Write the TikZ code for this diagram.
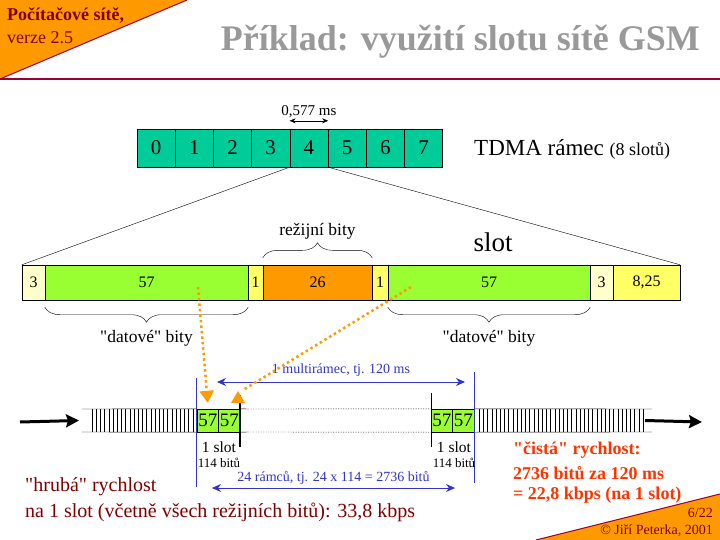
\documentclass[tikz,border=0pt]{standalone}
\usepackage{fontspec}
\setmainfont{Liberation Serif}[Ligatures=TeXOff]
\usepackage{tikz}
\usetikzlibrary{arrows.meta, positioning, calc, decorations.pathreplacing}

\definecolor{tdmagreen}{HTML}{00CC99}
\definecolor{datagreen}{HTML}{99FF33}
\definecolor{paleyellow}{HTML}{FFFFCC}
\definecolor{bityellow}{HTML}{FFFF66}
\definecolor{overorange}{HTML}{FF9900}
\definecolor{headred}{HTML}{990033}
\definecolor{textred}{HTML}{800000}
\definecolor{netred}{HTML}{FF3300}
\definecolor{linkblue}{HTML}{3333CC}
\definecolor{titlegray}{HTML}{999999}

\newcommand{\pxfont}[1]{\fontsize{#1}{#1}\selectfont}

\begin{document}
\begin{tikzpicture}[
    x=1pt, y=-1pt,
    tslot/.style={rectangle, draw, fill=tdmagreen, minimum width=38.2pt, minimum height=38pt, inner sep=0pt, font=\pxfont{21}},
    cell/.style={rectangle, draw, fill=#1, minimum height=35pt, inner sep=0pt, font=\pxfont{16}},
    tcell/.style={rectangle, draw, fill=datagreen, minimum width=21.5pt, minimum height=23pt, inner sep=0pt, font=\pxfont{19}},
    brace/.style={decorate, decoration={brace, amplitude=15pt}},
    bluearrow/.style={{Stealth[length=9pt, width=8pt]}-{Stealth[length=9pt, width=8pt]}, draw=linkblue, thick},
    orangedot/.style={draw=overorange, line width=2.5pt, dash pattern=on 2.5pt off 3pt},
    bigarrow/.style={-{Stealth[length=13pt, width=13pt, inset=2pt]}, line width=3pt},
    slotlabel/.style={font=\pxfont{15.5}, inner sep=0pt},
    bitlabel/.style={font=\pxfont{13}, inner sep=0pt},
    bluelabel/.style={font=\pxfont{14}, text=linkblue, inner sep=1pt}
]
\useasboundingbox (0,0) rectangle (720,540);

% ===== HEADER =====
\fill[overorange] (0,0) -- (187,0) -- (0,79) -- cycle;
\draw[headred, line width=1pt] (187,0) -- (0,79);
\draw[headred, line width=2pt] (0,79) -- (720,79);
\node[anchor=west, font=\pxfont{18}\bfseries, text=textred, inner sep=0pt] (course) at (7,16) {Počítačové sítě,};
\node[anchor=west, font=\pxfont{18}, text=textred, inner sep=0pt] (version) at (7,38) {verze 2.5};
\node[anchor=east, font=\pxfont{36}\bfseries, text=titlegray, inner sep=0pt] (title) at (700,42) {Příklad: využití slotu sítě GSM};

% ===== TDMA FRAME =====
\foreach \i in {0,...,7}
    \node[tslot] (t\i) at ({156.1+38.2*\i},148) {\i};
\node[anchor=west, font=\pxfont{23}, inner sep=0pt] (tdma) at (474,149) {TDMA rámec {\pxfont{18}(8 slotů)}};
\draw[{Stealth[length=6pt, width=5pt]}-{Stealth[length=6pt, width=5pt]}] ([yshift=8pt]t4.north west) -- ([yshift=8pt]t4.north east)
    node[midway, above=3pt, font=\pxfont{15}, inner sep=0pt] (period) {0,577 ms};

% ===== SLOT =====
\node[cell=paleyellow, minimum width=23pt] (s1) at (33.5,282.5) {3};
\node[cell=datagreen, minimum width=203pt] (s2) at (146.5,282.5) {57};
\node[cell=bityellow, minimum width=15pt] (s3) at (255.5,282.5) {1};
\node[cell=overorange, minimum width=109pt] (s4) at (317.5,282.5) {26};
\node[cell=bityellow, minimum width=16pt] (s5) at (380,282.5) {1};
\node[cell=datagreen, minimum width=202pt] (s6) at (489,282.5) {57};
\node[cell=paleyellow, minimum width=23pt] (s7) at (601.5,282.5) {3};
\node[cell=bityellow, minimum width=67pt] (s8) at (646.5,282.5) {8,25};

\draw (t4.south west) -- (s1.north west);
\draw (t4.south east) -- (s8.north east);
\node[font=\pxfont{27}] (slotname) at (493,242) {slot};

% braces
\draw[brace] ([yshift=7pt]s4.north west) -- ([yshift=7pt]s4.north east)
    node[midway, above=18pt, font=\pxfont{17.5}, inner sep=0pt] (overhead) {režijní bity};
\draw[brace] ([yshift=-7pt]s2.south east) -- ([yshift=-7pt]s2.south west)
    node[midway, below=23pt, font=\pxfont{17.5}, inner sep=0pt] (dataA) {"datové" bity};
\draw[brace] ([yshift=-7pt]s6.south east) -- ([yshift=-7pt]s6.south west)
    node[midway, below=23pt, font=\pxfont{17.5}, inner sep=0pt] (dataB) {"datové" bity};

% ===== TIMELINE =====
\node[tcell] (g1) at (207.75,420.5) {57};
\node[tcell] (g2) at (229.25,420.5) {57};
\node[tcell] (g3) at (441.75,420.5) {57};
\node[tcell] (g4) at (463.25,420.5) {57};

\coordinate (lstrip) at (82,420.5);
\coordinate (rstrip) at (643,420.5);
\coordinate (inflow) at (20,422);
\coordinate (outflow) at (702,422);

% left strip
\draw (82,409) -- (g1.north west);
\draw (82,432) -- (g1.south west);
\foreach \x in {92,96.2,...,196}
    \draw (\x,409) -- (\x,432);
\draw (g2.north east) -- (248,409);
\draw (g2.south east) -- (248,432);
\draw[dash pattern=on 1pt off 1.5pt] (248,409) -- (g3.north west);
\draw[dash pattern=on 1pt off 1.5pt] (248,432) -- (g3.south west);

% right strip
\draw (g4.north east) -- (652,409);
\draw (g4.south east) -- (652,432);
\foreach \x in {479.2,483.4,...,643}
    \draw (\x,409) -- (\x,432);

\draw[bigarrow] (inflow) -- ([xshift=-3pt]lstrip);
\draw[bigarrow] ([xshift=2pt]rstrip) -- (outflow);

% slot markers
\draw[line width=1.5pt] ([yshift=14pt]g2.north east) -- ([yshift=-15pt]g2.south east);
\draw ([yshift=16pt]g3.north west) -- ([yshift=-15pt]g3.south west);
\draw[linkblue, thick] ([yshift=31pt]g1.north west) -- ([yshift=-55pt]g1.south west);
\draw[linkblue, thick] ([yshift=37pt]g4.north east) -- ([yshift=-51pt]g4.south east);

\node[slotlabel] (slotA) at (219,447) {1 slot};
\node[bitlabel] (bitsA) at (219,463) {114 bitů};
\node[slotlabel] (slotB) at (454,447) {1 slot};
\node[bitlabel] (bitsB) at (454,463) {114 bitů};

% ===== MULTIFRAME ARROWS =====
\coordinate (mfl) at (217,382);
\coordinate (mfr) at (465,382);
\coordinate (bfl) at (212,488);
\coordinate (bfr) at (455,488);
\draw[bluearrow] (mfl) -- (mfr) node[midway, above=4pt, bluelabel] (multi) {1 multirámec, tj. 120 ms};
\draw[bluearrow] (bfl) -- (bfr) node[midway, above=2pt, bluelabel] (frames) {24 rámců, tj. 24 x 114 = 2736 bitů};

% ===== ORANGE POINTERS =====
\coordinate (dotA) at (198,287);
\coordinate (dotB) at (411,287);
\coordinate (tipB) at (238,391);
\draw[orangedot, -{Triangle[length=12pt, width=14pt]}] (dotA) -- ([yshift=6pt]g1.north);
\draw[orangedot] (dotB) -- ([shift={(5,-1)}]tipB);
\fill[overorange] (tipB) -- ++(-7,12) -- ++(14,0) -- cycle;

% ===== RATES =====
\node[anchor=west, font=\pxfont{20}, text=textred, inner sep=0pt] (gross1) at (25,487) {"hrubá" rychlost};
\node[anchor=west, font=\pxfont{20}, text=textred, inner sep=0pt] (gross2) at (25,512) {na 1 slot (včetně všech režijních bitů): 33,8 kbps};
\node[anchor=west, font=\pxfont{18}\bfseries, text=netred, inner sep=0pt] (net1) at (513,450) {"čistá" rychlost:};
\node[anchor=west, font=\pxfont{18}\bfseries, text=netred, inner sep=0pt] (net2) at (513,473) {2736 bitů za 120 ms};
\node[anchor=west, font=\pxfont{18}\bfseries, text=netred, inner sep=0pt] (net3) at (513,495) {= 22,8 kbps (na 1 slot)};

% ===== FOOTER =====
\fill[overorange] (536,540) -- (720,494) -- (720,540) -- cycle;
\draw[headred, line width=1pt] (536,540) -- (720,494);
\node[anchor=east, font=\pxfont{14}, text=textred, inner sep=0pt] (page) at (713,513) {6/22};
\node[anchor=east, font=\pxfont{14}, text=textred, inner sep=0pt] (author) at (713,531) {© Jiří Peterka, 2001};

\end{tikzpicture}
\end{document}
